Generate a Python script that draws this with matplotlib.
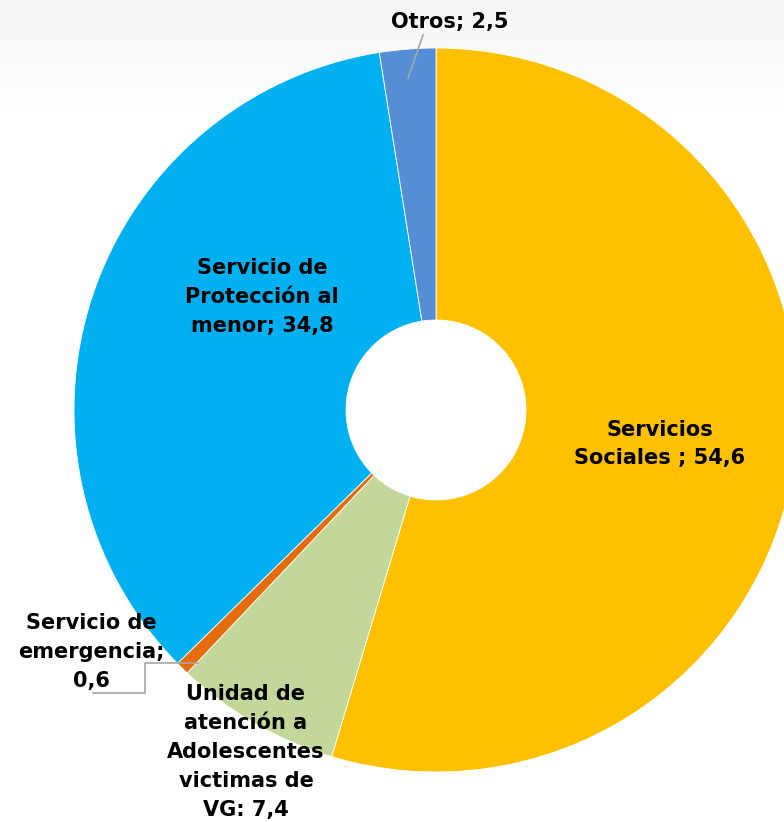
import matplotlib
matplotlib.use('Agg')

import numpy as np
import matplotlib.pyplot as plt

# data
categorias = ['Servicios Sociales', 'Unidad de atención a Adolescentes victimas de VG',
              'Servicio de emergencia', 'Servicio de Protección al menor', 'Otros']
valores = [54.6, 7.4, 0.6, 34.8, 2.5]
etiquetas = ['Servicios\nSociales ; 54,6',
             'Unidad de\natención a\nAdolescentes\nvictimas de\nVG: 7,4',
             'Servicio de\nemergencia;\n0,6',
             'Servicio de\nProtección al\nmenor; 34,8',
             'Otros; 2,5']
colores = ['#FFC000', '#C4D79B', '#E46C0A', '#00B0F0', '#558ED5']

W, H = 784, 822
fig = plt.figure(figsize=(W / 100, H / 100), dpi=100)
ax = fig.add_axes([0, 0, 1, 1])

# faint grey band at the top
grad = np.linspace(0, 1, 100).reshape(-1, 1)
ax.imshow(grad, cmap=matplotlib.colors.LinearSegmentedColormap.from_list('g', ['#ffffff', '#f6f6f6']),
          extent=[0, W, H - 115, H], aspect='auto', zorder=0, origin='lower')

cx, cy, R, r_in = 436, H - 410, 362, 90
wedges, _ = ax.pie(valores, colors=colores, startangle=90, counterclock=False,
                   center=(cx, cy), radius=R,
                   wedgeprops=dict(width=R - r_in, edgecolor='white', linewidth=0.6))
for w in wedges:
    w.set_zorder(2)

ax.set_xlim(0, W)
ax.set_ylim(0, H)
ax.set_aspect('equal')
ax.axis('off')

font = dict(family='DejaVu Sans', fontweight='bold', fontsize=15, ha='center', va='center',
            linespacing=1.55, zorder=5)

# label positions in pixels (x, y from top)
pos = [(660, 444), (246, 752), (91, 652), (262, 297), (450, 22)]
for txt, (x, y) in zip(etiquetas, pos):
    ax.text(x, H - y, txt, **font)

# leader lines
ax.plot([423, 408], [H - 35, H - 78], color='#a6a6a6', lw=1.2, zorder=4)
ax.plot([198, 145, 145, 93], [H - 663, H - 663, H - 693, H - 693], color='#a6a6a6', lw=1.2, zorder=4)

fig.savefig('out.png', dpi=100)
